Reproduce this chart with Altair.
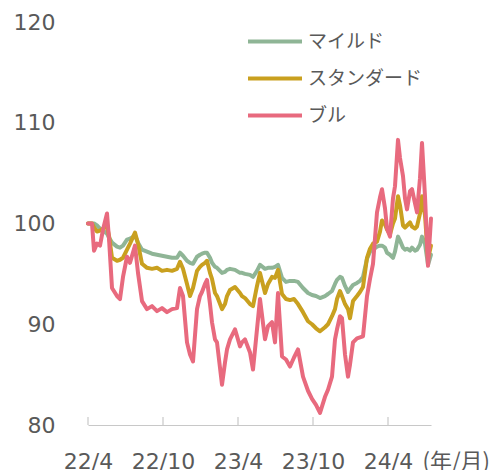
import altair as alt
import pandas as pd

# Months elapsed since 2022/4 (x position)
months = [0, 0.32, 0.48, 0.72, 0.96, 1.2, 1.52, 1.68, 1.92, 2.32, 2.56, 2.8, 3.12, 3.36, 3.76, 4.0,
          4.32, 4.72, 5.12, 5.52, 5.92, 6.32, 6.72, 7.12, 7.36, 7.6, 7.92, 8.16, 8.4, 8.72, 8.96,
          9.12, 9.36, 9.52, 9.76, 9.92, 10.16, 10.32, 10.72, 10.96, 11.12, 11.36, 11.76, 12.16,
          12.32, 12.56, 12.96, 13.2, 13.52, 13.76, 14.16, 14.4, 14.72, 14.96, 15.2, 15.52, 15.84,
          16.16, 16.48, 16.8, 17.2, 17.6, 17.92, 18.24, 18.56, 18.96, 19.2, 19.52, 19.76, 19.92,
          20.16, 20.32, 20.56, 20.8, 20.96, 21.2, 21.52, 21.76, 22.0, 22.32, 22.56, 22.8, 23.12,
          23.36, 23.52, 23.76, 23.92, 24.16, 24.4, 24.56, 24.8, 24.96, 25.2, 25.36, 25.52, 25.76,
          25.92, 26.16, 26.32, 26.56, 26.72, 26.96, 27.2, 27.44]

mild = [100, 100, 100, 99.8, 99.5, 99.3, 99.0, 98.6, 98.1, 97.7, 97.6, 97.8, 98.4, 98.5, 98.8, 98.1,
        97.4, 97.2, 97.0, 96.9, 96.8, 96.7, 96.6, 96.6, 97.1, 96.8, 96.3, 96.1, 96.0, 96.7, 96.9,
        97.0, 97.1, 97.1, 96.6, 96.1, 95.7, 95.6, 95.1, 95.2, 95.4, 95.5, 95.4, 95.1,
        95.1, 95.0, 94.9, 94.7, 95.3, 95.9, 95.5, 95.6, 95.6, 95.7, 95.9, 94.6, 94.2,
        94.3, 94.3, 94.2, 93.6, 93.1, 92.9, 92.8, 92.6, 92.8, 93.0, 93.3, 94.0, 94.4,
        94.7, 94.6, 93.8, 93.2, 93.5, 93.9, 94.1, 94.3, 94.7, 96.5, 97.2, 97.4, 97.7,
        97.8, 97.8, 97.6, 97.1, 96.9, 96.6, 97.2, 98.7, 98.3, 97.6, 97.4, 97.5, 97.3,
        97.6, 97.3, 97.4, 97.9, 98.7, 98.0, 95.9, 96.9]

standard = [100, 100, 99.6, 99.2, 99.3, 99.5, 99.7, 98.8, 96.6, 96.3, 96.4, 96.6, 97.4, 98.0, 99.1, 98.0,
            96.0, 95.6, 95.5, 95.6, 95.3, 95.4, 95.3, 95.5, 96.2, 95.5, 94.0, 92.8, 93.6, 95.3, 95.7,
            95.9, 96.1, 96.3, 95.1, 94.5, 93.1, 92.8, 91.5, 92.0, 92.8, 93.4, 93.7, 93.1,
            92.8, 92.6, 92.0, 91.8, 93.8, 95.1, 93.1, 94.0, 94.7, 94.6, 95.4, 93.0, 92.5,
            92.4, 92.5, 92.0, 91.2, 90.3, 90.0, 89.6, 89.3, 89.7, 90.0, 90.8, 91.5, 92.5,
            93.3, 92.8, 92.0, 91.5, 90.6, 92.3, 92.8, 93.2, 93.7, 96.6, 97.5, 98.0, 98.2,
            99.2, 100.3, 99.9, 99.4, 98.9, 100.0, 100.5, 102.7, 101.8, 99.8, 99.6, 99.8, 100.1,
            99.7, 99.5, 99.7, 101.0, 102.7, 100.8, 96.5, 97.8]

bull = [100, 100, 97.3, 98.0, 97.8, 99.4, 101.0, 98.5, 93.6, 92.8, 92.5, 94.7, 96.7, 96.1, 97.8, 95.1,
        92.3, 91.5, 91.8, 91.3, 91.6, 91.2, 91.5, 91.6, 93.6, 92.8, 88.2, 87.0, 86.3, 91.5, 92.8,
        93.2, 94.0, 94.4, 92.0, 90.2, 88.5, 88.2, 84.0, 86.2, 87.5, 88.5, 89.5, 87.8,
        88.2, 88.5, 87.2, 85.5, 89.5, 92.5, 88.5, 89.8, 90.2, 88.2, 93.1, 86.8, 86.5,
        85.8, 86.7, 87.5, 84.8, 83.4, 82.6, 82.0, 81.2, 82.8, 83.5, 84.8, 88.5, 89.5,
        90.8, 90.6, 87.0, 84.8, 86.0, 88.2, 88.6, 88.7, 88.8, 92.8, 94.5, 96.0, 101.1,
        102.6, 103.4, 101.5, 99.5, 98.7, 102.5, 103.7, 108.3, 106.5, 104.7, 102.5, 101.4, 103.2,
        103.4, 102.0, 101.1, 104.5, 108.0, 102.7, 95.8, 100.5]

series_names = ["マイルド", "スタンダード", "ブル"]
series_colors = ["#8fb596", "#c9a01f", "#e86a7e"]

tick_months = [0, 6, 12, 18, 24]
tick_labels = ["22/4", "22/10", "23/4", "23/10", "24/4"]
y_ticks = [80, 90, 100, 110, 120]
x_unit_title = "(年/月)"

rows = []
for name, vals in zip(series_names, [mild, standard, bull]):
    for m, v in zip(months, vals):
        rows.append({"month": m, "value": v, "series": name})
df = pd.DataFrame(rows)
tick_df = pd.DataFrame({"month": tick_months})

label_expr = " : ".join(
    f"datum.value == {m} ? '{l}'" for m, l in zip(tick_months, tick_labels)
) + " : ''"

num_font = "DejaVu Sans"
cjk_font = "Noto Sans CJK JP"
text_color = "#595959"

x_enc = alt.X(
    "month:Q",
    scale=alt.Scale(domain=[0, 27.44], nice=False, zero=False),
    axis=alt.Axis(
        values=tick_months, labelExpr=label_expr, ticks=False, grid=False,
        domainColor="#c8c8c8", domainWidth=1.2, labelFont=num_font, labelFontSize=22,
        labelColor=text_color, labelPadding=26, labelOverlap=False, labelFlush=False,
        title=x_unit_title, titleFont=cjk_font, titleFontSize=22, titleFontWeight="normal",
        titleColor=text_color, titleAlign="left", titleAnchor="start", titleX=334, titleY=43,
        titleBaseline="alphabetic",
    ),
)
y_enc = alt.Y(
    "value:Q",
    scale=alt.Scale(domain=[80, 120], nice=False, zero=False),
    axis=alt.Axis(
        values=y_ticks, ticks=False, domain=False, grid=False, labelFont=num_font,
        labelFontSize=22, labelColor=text_color, labelPadding=33, title=None,
    ),
)
color_enc = alt.Color(
    "series:N",
    scale=alt.Scale(domain=series_names, range=series_colors),
    legend=alt.Legend(
        title=None, orient="none", legendX=158, legendY=10, symbolType="stroke",
        symbolSize=2916, symbolStrokeWidth=4, clipHeight=19, rowPadding=17,
        labelFontSize=19, labelFont=cjk_font, labelColor=text_color, labelOffset=4,
        padding=0,
    ),
)

layers = []
for name in series_names:
    layers.append(
        alt.Chart(df).transform_filter(alt.datum.series == name)
        .mark_line(strokeWidth=4, strokeJoin="round", strokeCap="round")
        .encode(x=x_enc, y=y_enc, color=color_enc)
    )

ticks = alt.Chart(tick_df).mark_rule(color="#c8c8c8", strokeWidth=1.2).encode(
    x=x_enc, y=alt.datum(80), y2=alt.datum(80.8)
)

chart = alt.layer(ticks, *layers).properties(
    width=343, height=403,
    padding={"left": 5, "top": 3, "right": 5, "bottom": 0},
).configure_view(stroke=None)

chart.save("out.html", embed_options={"renderer": "svg", "actions": False})
